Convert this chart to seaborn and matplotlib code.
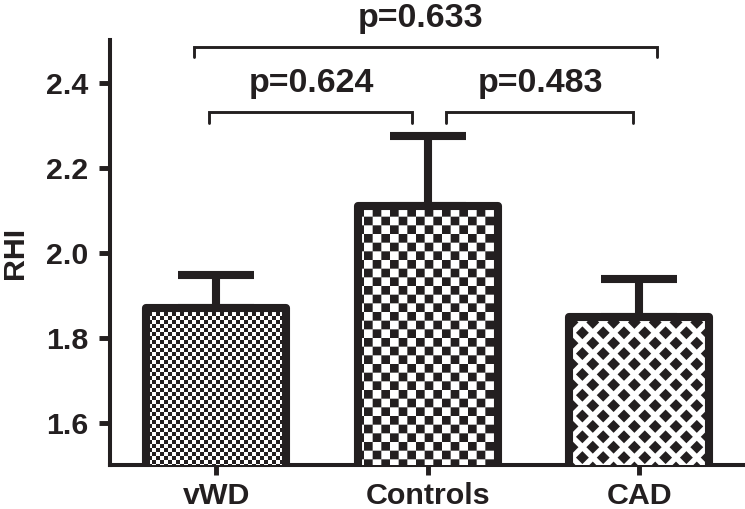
import warnings
import numpy as np
import seaborn as sns
import matplotlib
matplotlib.use('Agg')
import matplotlib.pyplot as plt
import matplotlib.hatch as mhatch
from matplotlib.path import Path

warnings.filterwarnings('ignore')

# Data
groups = ['vWD', 'Controls', 'CAD']
rhi_mean = [1.87, 2.11, 1.85]
rhi_sem = [0.079, 0.164, 0.089]
p_labels = ['p=0.624', 'p=0.483', 'p=0.633']

DARK = '#231f20'
DPI = 104


# custom fill patterns (checkerboards and diamonds) as matplotlib hatches
class CheckerHatch(mhatch.HatchPatternBase):
    key = 'c'
    cells = 26

    def __init__(self, hatch, density):
        n = self.cells
        self.num_vertices = (n * n // 2) * 5 if self.key in hatch else 0

    def set_vertices_and_codes(self, vertices, codes):
        n = self.cells
        s = 1.0 / n
        k = 0
        for i in range(n):
            for j in range(n):
                if (i + j) % 2 == 0:
                    x0, y0 = i * s, j * s
                    vertices[k:k + 5] = [(x0, y0), (x0 + s, y0), (x0 + s, y0 + s),
                                         (x0, y0 + s), (x0, y0)]
                    codes[k:k + 5] = [Path.MOVETO, Path.LINETO, Path.LINETO,
                                      Path.LINETO, Path.CLOSEPOLY]
                    k += 5


class BigCheckerHatch(CheckerHatch):
    key = 'C'
    cells = 12


class DiamondHatch(mhatch.HatchPatternBase):
    key = 'd'
    n = 5
    r = 0.31

    def __init__(self, hatch, density):
        n = self.n
        self.num_vertices = ((n + 1) ** 2 + n ** 2) * 5 if self.key in hatch else 0

    def set_vertices_and_codes(self, vertices, codes):
        n = self.n
        p = 1.0 / n
        r = self.r * p
        centers = [(i * p, j * p) for i in range(n + 1) for j in range(n + 1)]
        centers += [((i + 0.5) * p, (j + 0.5) * p) for i in range(n) for j in range(n)]
        k = 0
        for cx, cy in centers:
            vertices[k:k + 5] = [(cx - r, cy), (cx, cy - r), (cx + r, cy),
                                 (cx, cy + r), (cx - r, cy)]
            codes[k:k + 5] = [Path.MOVETO, Path.LINETO, Path.LINETO,
                              Path.LINETO, Path.CLOSEPOLY]
            k += 5


mhatch._hatch_types += [CheckerHatch, BigCheckerHatch, DiamondHatch]

sns.set_style('ticks')
plt.rcParams['font.family'] = ['Liberation Sans', 'DejaVu Sans']
plt.rcParams['font.weight'] = 'bold'
plt.rcParams['hatch.linewidth'] = 0.0

fig = plt.figure(figsize=(745.3 / DPI, 509.3 / DPI), dpi=DPI)
ax = fig.add_axes([0.148, 0.0855, 0.8517, 0.835])

sns.barplot(x=groups, y=rhi_mean, color='white', saturation=1, width=0.66,
            edgecolor=DARK, linewidth=5.6, errorbar=None, ax=ax)
for bar, h in zip(ax.patches, ['c', 'C', 'd']):
    bar.set_hatch(h)
    bar.set_joinstyle('round')
    bar.set_zorder(3)

ax.errorbar(np.arange(len(groups)), rhi_mean,
            yerr=[np.zeros(len(groups)), rhi_sem],
            fmt='none', ecolor=DARK, elinewidth=5.6, capsize=26, capthick=5.6,
            zorder=2)

ax.set_xlim(-0.5, 2.5)
ax.set_ylim(1.5, 2.5)
ax.set_yticks([1.6, 1.8, 2.0, 2.2, 2.4])
ax.set_yticklabels(['1.6', '1.8', '2.0', '2.2', '2.4'])
ax.set_ylabel('RHI', fontsize=21, fontweight='bold', color=DARK)
ax.yaxis.set_label_coords(-0.128, 0.5)
ax.set_xlabel('')

for s in ['top', 'right']:
    ax.spines[s].set_visible(False)
for s in ['left', 'bottom']:
    ax.spines[s].set_linewidth(2.8)
    ax.spines[s].set_color(DARK)
ax.tick_params(axis='y', length=7.6, width=3.4, color=DARK, pad=7.5,
               labelsize=21, labelcolor=DARK)
ax.tick_params(axis='x', length=7, width=3.4, color=DARK, pad=4,
               labelsize=21, labelcolor=DARK)

# significance brackets: (x left, x right, y, drop, text x, text y)
brackets = [(-0.033, 0.927, 2.332, 0.026, 0.452, 2.38),
            (1.087, 1.972, 2.332, 0.026, 1.532, 2.38),
            (-0.104, 2.085, 2.485, 0.024, 0.965, 2.532)]
for (x0, x1, y, d, tx, ty), lab in zip(brackets, p_labels):
    ax.plot([x0, x0, x1, x1], [y - d, y, y, y - d], color=DARK, lw=2.0,
            clip_on=False, solid_joinstyle='miter')
    ax.text(tx, ty, lab, ha='center', va='baseline', fontsize=23.5,
            fontweight='bold', color=DARK, clip_on=False)

fig.savefig('out.png', dpi=DPI)
